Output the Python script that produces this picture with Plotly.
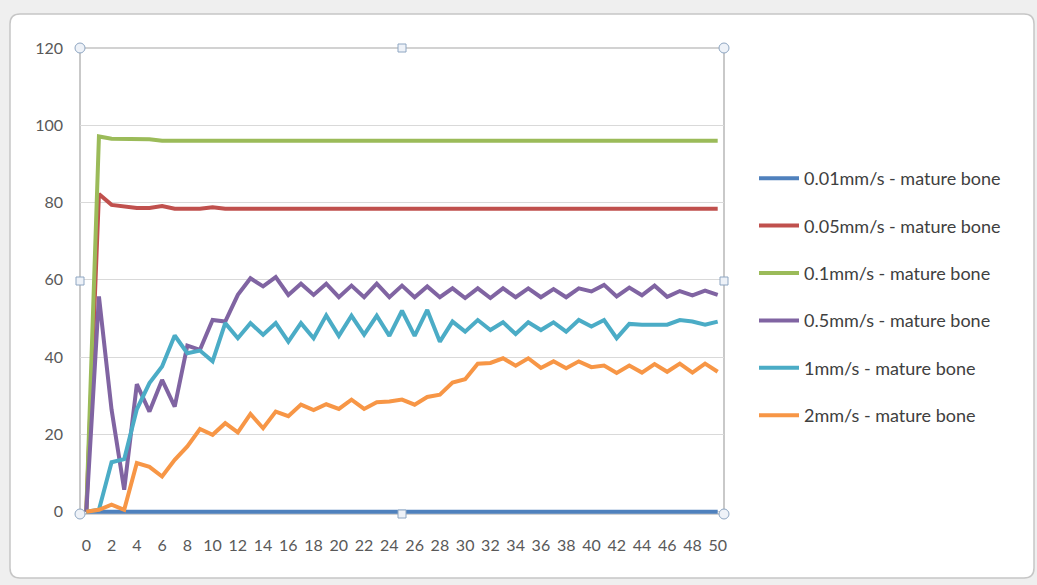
import plotly.graph_objects as go

x_vals = list(range(51))
x_tick_vals = list(range(0, 51, 2))
y_tick_vals = [0, 20, 40, 60, 80, 100, 120]

names = ["0.01mm/s - mature bone", "0.05mm/s - mature bone", "0.1mm/s - mature bone",
         "0.5mm/s - mature bone", "1mm/s - mature bone", "2mm/s - mature bone"]

v001 = [0, 0, 0, 0, 0, 0, 0, 0, 0, 0, 0, 0, 0, 0, 0, 0, 0, 0, 0, 0, 0, 0, 0, 0, 0, 0,
        0, 0, 0, 0, 0, 0, 0, 0, 0, 0, 0, 0, 0, 0, 0, 0, 0, 0, 0, 0, 0, 0, 0, 0, 0]
v005 = [0, 82.2, 79.4, 78.9, 78.6, 78.6, 79.1, 78.4, 78.4, 78.4, 78.8, 78.4, 78.4, 78.4, 78.4,
        78.4, 78.4, 78.4, 78.4, 78.4, 78.4, 78.4, 78.4, 78.4, 78.4, 78.4, 78.4, 78.4, 78.4,
        78.4, 78.4, 78.4, 78.4, 78.4, 78.4, 78.4, 78.4, 78.4, 78.4, 78.4, 78.4, 78.4, 78.4,
        78.4, 78.4, 78.4, 78.4, 78.4, 78.4, 78.4, 78.4]
v01 = [0, 97.1, 96.5, 96.5, 96.5, 96.4, 96.0, 96.0, 96.0, 96.0, 96.0, 96.0, 96.0, 96.0, 96.0,
       96.0, 96.0, 96.0, 96.0, 96.0, 96.0, 96.0, 96.0, 96.0, 96.0, 96.0, 96.0, 96.0, 96.0,
       96.0, 96.0, 96.0, 96.0, 96.0, 96.0, 96.0, 96.0, 96.0, 96.0, 96.0, 96.0, 96.0, 96.0,
       96.0, 96.0, 96.0, 96.0, 96.0, 96.0, 96.0, 96.0]
v05 = [0, 55.7, 26.4, 5.7, 33.0, 25.9, 34.1, 27.2, 43.0, 41.9, 49.6, 49.2, 56.1, 60.4, 58.3,
       60.7, 56.1, 59.0, 56.1, 59.0, 55.5, 58.5, 55.5, 59.0, 55.5, 58.5, 55.5, 58.3, 55.5,
       57.8, 55.3, 57.8, 55.3, 57.8, 55.5, 57.8, 55.5, 57.6, 55.5, 57.8, 57.0, 58.7, 55.7,
       58.0, 56.0, 58.5, 55.6, 57.1, 56.0, 57.2, 56.1]
v1 = [0, 0.5, 12.8, 13.6, 26.5, 33.3, 37.6, 45.6, 41.0, 41.7, 38.9, 48.8, 44.9, 48.8, 45.8,
      48.8, 44.0, 48.8, 44.9, 50.8, 45.5, 50.7, 45.8, 50.7, 45.5, 52.0, 45.5, 52.2, 44.0,
      49.2, 46.6, 49.6, 47.0, 49.0, 46.0, 49.0, 47.0, 49.0, 46.6, 49.6, 47.9, 49.6, 44.9,
      48.6, 48.4, 48.4, 48.4, 49.6, 49.2, 48.4, 49.2]
v2 = [0, 0.5, 1.8, 0.5, 12.6, 11.6, 9.1, 13.4, 16.9, 21.4, 19.9, 22.9, 20.5, 25.3, 21.6,
      25.9, 24.7, 27.7, 26.3, 27.8, 26.6, 29.0, 26.6, 28.3, 28.5, 29.0, 27.7, 29.7, 30.3,
      33.4, 34.3, 38.3, 38.5, 39.7, 37.8, 39.7, 37.2, 38.9, 37.1, 38.9, 37.4, 37.8, 35.9,
      37.8, 36.0, 38.2, 36.2, 38.3, 36.0, 38.3, 36.2]

series = [v001, v005, v01, v05, v1, v2]
colors = ["#4F81BD", "#C0504D", "#9BBB59", "#8064A2", "#4BACC6", "#F79646"]

W, H = 1037, 585
L, R, T, B = 80, 724, 48, 514


def px(xp):
    return (xp - L) / (R - L)


def py(yp):
    return (B - yp) / (B - T)


fig = go.Figure()
for i, (nm, vals, col) in enumerate(zip(names, series, colors)):
    fig.add_trace(go.Scatter(x=x_vals, y=vals, mode="lines", name=nm,
                             legendgroup=str(i),
                             line=dict(color=col, width=4)))

shapes = []
# outer rounded chart frame
x0, x1, y0, y1 = px(10), px(1034), py(14), py(578)
rx = 10 / (R - L)
ry = 10 / (B - T)
path = (f"M {x0+rx},{y0} L {x1-rx},{y0} Q {x1},{y0} {x1},{y0-ry} "
        f"L {x1},{y1+ry} Q {x1},{y1} {x1-rx},{y1} L {x0+rx},{y1} "
        f"Q {x0},{y1} {x0},{y1+ry} L {x0},{y0-ry} Q {x0},{y0} {x0+rx},{y0} Z")
shapes.append(dict(type="path", xref="paper", yref="paper", path=path,
                   line=dict(color="#c6c6c6", width=1.5), fillcolor="white", layer="below"))
# plot-area border
shapes.append(dict(type="rect", xref="x domain", yref="y domain", x0=0, x1=1, y0=0, y1=1,
                   line=dict(color="#a6a6a6", width=1.2), layer="below"))
# selection handles
for (hx, hy) in [(0, 0), (1, 0), (0, 1), (1, 1)]:
    shapes.append(dict(type="circle", xref="x domain", yref="y domain",
                       xsizemode="pixel", ysizemode="pixel", xanchor=hx, yanchor=hy,
                       x0=-5, x1=5, y0=-5, y1=5,
                       line=dict(color="#8ea6c2", width=1), fillcolor="#eef2f8"))
for (hx, hy) in [(0.5, 0), (0.5, 1), (0, 0.5), (1, 0.5)]:
    shapes.append(dict(type="rect", xref="x domain", yref="y domain",
                       xsizemode="pixel", ysizemode="pixel", xanchor=hx, yanchor=hy,
                       x0=-4, x1=4, y0=-4, y1=4,
                       line=dict(color="#8ea6c2", width=1), fillcolor="#eef2f8"))

fig.update_layout(
    width=W, height=H,
    margin=dict(l=L, r=W - R, t=T, b=H - B, autoexpand=False),
    paper_bgcolor="#efefef",
    plot_bgcolor="rgba(0,0,0,0)",
    font=dict(family="Lato, Open Sans, sans-serif", size=15, color="#595959"),
    showlegend=True,
    legend=dict(x=px(754), y=py(160), xanchor="left", yanchor="top",
                traceorder="grouped", tracegroupgap=21,
                font=dict(size=18, color="#404040"), bgcolor="rgba(0,0,0,0)",
                itemwidth=40),
    shapes=shapes,
    xaxis=dict(range=[-0.5, 50.5], tickmode="array", tickvals=x_tick_vals,
               ticktext=[str(v) for v in x_tick_vals], showgrid=False, zeroline=False,
               showline=False, ticks="", ticklabelstandoff=20,
               tickfont=dict(size=16, color="#595959")),
    yaxis=dict(range=[-0.6, 120], tickmode="array", tickvals=y_tick_vals,
               showgrid=True, gridcolor="#d9d9d9", gridwidth=1, zeroline=False,
               showline=False, ticks="", ticklabelstandoff=16,
               tickfont=dict(size=16, color="#595959")),
)

fig.write_html("out.html", config={"displayModeBar": False},
               post_script="document.body.style.margin='0';")
